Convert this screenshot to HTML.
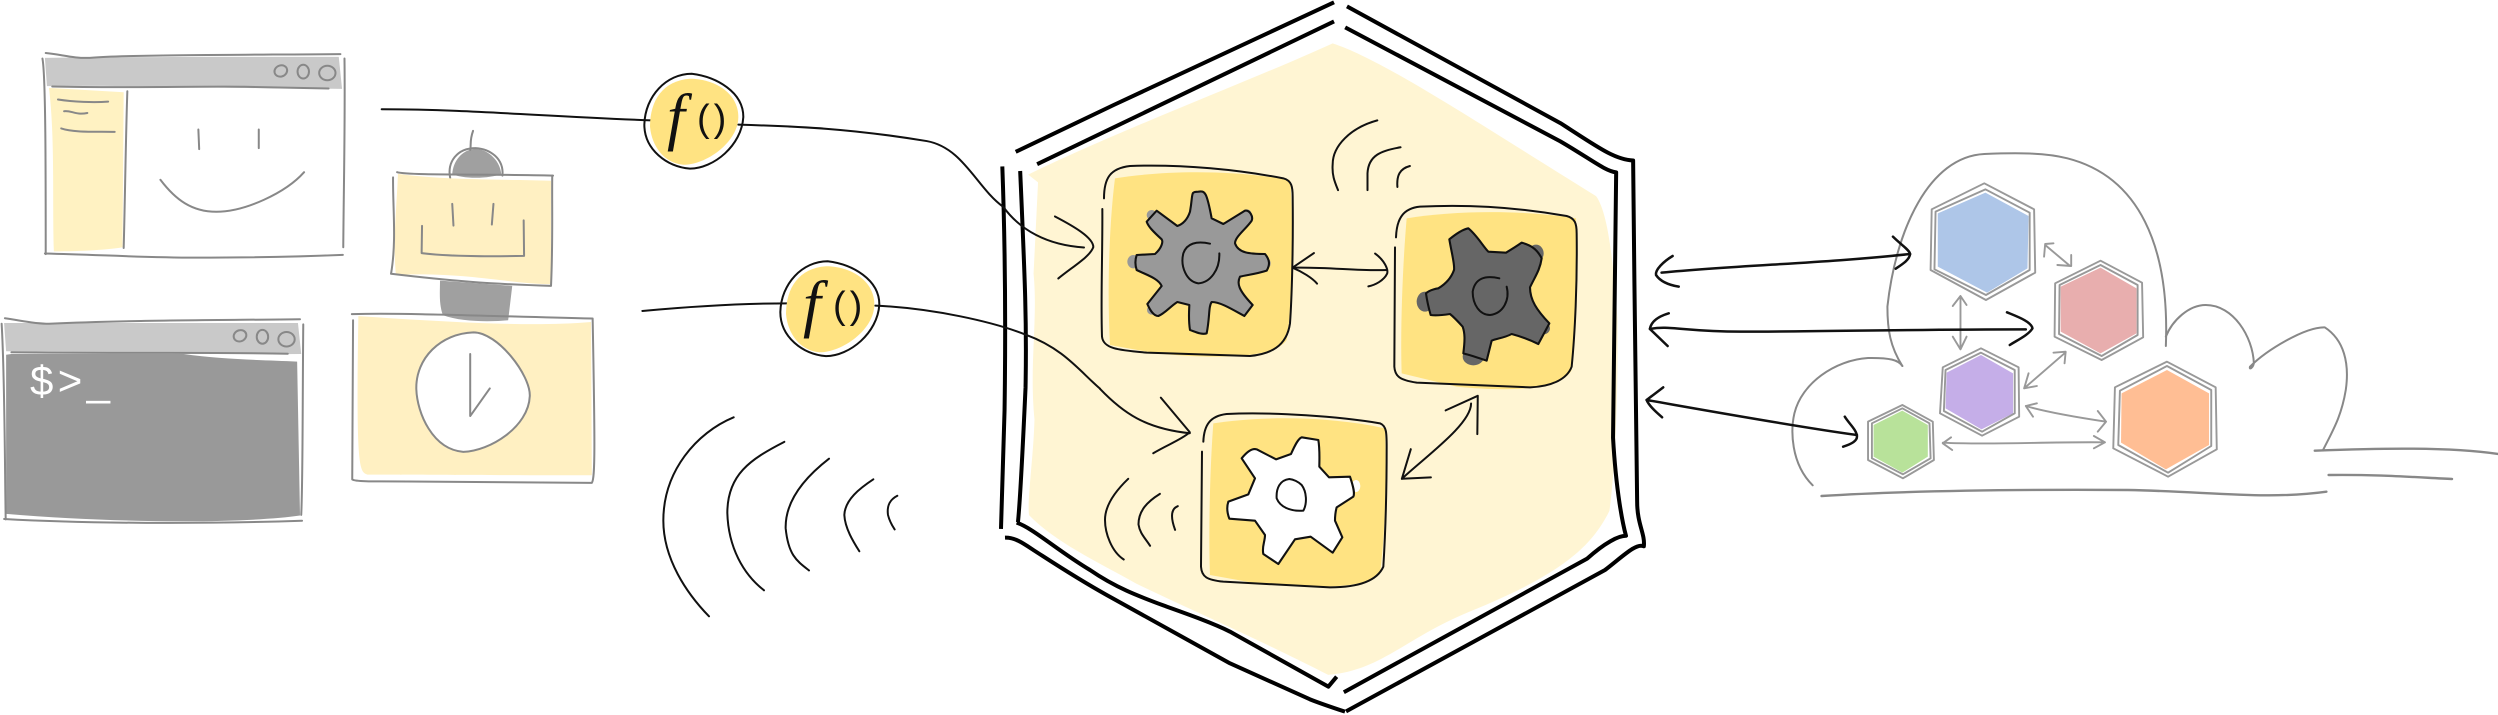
<!DOCTYPE html>
<html><head><meta charset="utf-8"><title>Diagram</title>
<style>
html,body{margin:0;padding:0;background:#fff;width:2498px;height:715px;overflow:hidden}
svg{display:block}
path,polygon,ellipse{vector-effect:non-scaling-stroke;stroke-linecap:round;stroke-linejoin:round}
.g{fill:none;stroke:#888;stroke-width:2}
.k{fill:none;stroke:#111;stroke-width:2}
.K{fill:none;stroke:#000;stroke-width:4;stroke-linecap:butt}
.A{fill:none;stroke:#111;stroke-width:2.5}
.a{fill:none;stroke:#999;stroke-width:1.9}
.h{fill:none;stroke:#999;stroke-width:1.9}
</style></head><body>
<svg width="2498" height="715" viewBox="0 0 2498 715" xmlns="http://www.w3.org/2000/svg">

<!-- left clients -->
<g transform="scale(.40816,.34439)">
  <path fill="#c9c9c9" d="M110,168 C300,165 600,165 830,165 L838,258 C600,258 300,246 115,250 Z"/>
  <path fill="#fff2c2" d="M120,255 L303,268 L300,718 C270,725 200,730 132,730 C128,600 135,400 120,255 Z"/>
  <path class="g" d="M112,154 C150,158 180,170 220,168 C300,160 500,160 834,157"/>
  <path class="g" d="M104,170 C112,220 112,500 112,738"/>
  <path class="g" d="M110,736 C250,740 350,748 480,748 C600,748 720,746 840,740"/>
  <path class="g" d="M844,170 C846,350 842,550 841,718"/>
  <path class="g" d="M128,251 C300,256 500,250 600,252 L805,257"/>
  <path class="g" d="M312,265 C308,400 306,600 303,720"/>
  <path class="g" d="M142,289 C180,296 230,298 265,295"/>
  <path class="g" d="M157,323 C175,320 185,335 214,328"/>
  <path class="g" d="M150,373 C180,385 230,382 281,383"/>
  <path class="g" d="M486,376 L488,433 M634,376 L634,430"/>
  <path class="g" d="M393,522 C430,580 470,615 530,615 C600,615 700,560 745,500"/>
  <ellipse class="g" cx="688" cy="206" rx="15" ry="17" transform="rotate(30 688 206)"/>
  <ellipse class="g" cx="743" cy="208" rx="14" ry="20"/>
  <ellipse class="g" cx="802" cy="212" rx="20" ry="21"/>

  <path fill="#c9c9c9" d="M10,938 C250,938 500,938 730,938 L738,1028 C500,1030 250,1022 15,1020 Z"/>
  <path fill="#999" d="M28,1028 L450,1028 C550,1045 650,1045 728,1050 L735,1497 C600,1520 300,1520 15,1492 L15,1030 Z"/>
  <path class="g" d="M12,924 C50,930 80,940 120,940 C300,930 500,930 735,927"/>
  <path class="g" d="M4,940 C12,1100 12,1400 14,1508"/>
  <path class="g" d="M10,1507 C200,1520 500,1522 740,1512"/>
  <path class="g" d="M743,942 C741,1200 742,1400 738,1495"/>
  <path class="g" d="M28,1023 C300,1027 500,1022 705,1027"/>
  <ellipse class="g" cx="588" cy="975" rx="15" ry="17" transform="rotate(30 588 975)"/>
  <ellipse class="g" cx="643" cy="978" rx="14" ry="20"/>
  <ellipse class="g" cx="702" cy="985" rx="20" ry="21"/>

  <!-- robot -->
  <path fill="#a0a0a0" d="M1108,505 C1110,470 1130,435 1165,432 C1200,435 1225,470 1228,505 C1200,520 1130,520 1108,505 Z"/>
  <path class="g" d="M1159,380 C1150,410 1155,420 1152,435"/>
  <path class="g" d="M1103,517 C1095,470 1120,430 1165,430 C1200,432 1235,460 1231,510"/>
  <path fill="#a0a0a0" d="M1078,815 L1255,830 L1245,930 C1200,935 1130,935 1085,915 C1075,880 1078,850 1078,815 Z"/>
  <path fill="#fff0c2" d="M975,505 C1100,525 1250,520 1350,525 L1350,825 C1250,825 1150,790 970,798 C962,700 972,600 975,505 Z"/>
  <path class="g" d="M973,500 C1000,510 1200,505 1355,510"/>
  <path class="g" d="M963,515 C962,600 972,700 958,795 C1100,815 1200,825 1350,830 C1355,700 1352,600 1353,510"/>
  <path class="g" d="M1108,592 L1111,655 M1209,592 L1205,652"/>
  <path class="g" d="M1034,656 L1033,735 C1100,745 1200,745 1284,743 L1283,640"/>
  <path fill="#fff0c2" d="M878,918 C1100,935 1300,950 1448,935 L1450,1380 C1250,1380 1000,1378 900,1378 C880,1370 872,1360 878,918 Z"/>
  <path class="g" d="M862,912 C1000,908 1200,918 1450,925"/>
  <path class="g" d="M865,930 L863,1392 C870,1398 900,1398 1000,1398 L1450,1402 C1458,1390 1458,1300 1452,925"/>
  <path fill="#fff" stroke="#888" stroke-width="2" d="M1020,1130 C1018,1040 1080,968 1160,965 C1220,965 1300,1090 1298,1150 C1295,1240 1200,1310 1135,1312 C1060,1305 1022,1200 1020,1130 Z"/>
  <path class="g" d="M1152,1028 L1152,1208 L1200,1128"/>
</g>
<text x="30" y="395" fill="#fff" font-family="'Liberation Sans',sans-serif" font-size="42" textLength="80">$&gt;_</text>

<!-- central hexagon -->
<g transform="translate(980,0) scale(.44643,.456)">
  <path fill="#fff5d3" d="M108,383 C300,290 600,180 790,95 C900,130 1100,260 1380,430 C1410,470 1420,600 1428,700 C1430,900 1420,1050 1410,1120 C1370,1200 1300,1260 1100,1340 C950,1400 900,1470 780,1480 C620,1400 500,1350 350,1280 C260,1230 170,1190 110,1130 C105,1100 120,1000 122,920 C110,800 130,700 120,600 L130,400 Z"/>
  <path class="K" d="M80,333 L300,230 L793,5"/>
  <path class="K" d="M128,360 L793,47"/>
  <path class="K" d="M822,14 L1300,270 C1380,320 1420,350 1463,352 C1465,600 1470,900 1472,1100 C1472,1150 1490,1170 1487,1198 C1470,1190 1440,1220 1400,1250 L820,1560"/>
  <path class="K" d="M818,60 L1300,310 C1370,350 1400,375 1425,378 L1418,960 C1425,1080 1440,1150 1447,1175 C1430,1175 1400,1190 1360,1225 L815,1518"/>
  <path class="K" d="M90,375 C100,600 105,700 102,850 C95,1000 90,1100 85,1145"/>
  <path class="K" d="M50,365 C55,500 58,700 55,900 L47,1160"/>
</g>
<g transform="translate(990,500) scale(.33333)">
  <path class="K" d="M1065,635 C1020,620 990,610 960,598 L720,490 L350,285 C260,235 200,195 130,150 C100,130 75,112 45,113"/>
  <path class="K" d="M80,68 C130,85 200,150 300,210 C380,265 450,290 530,320 C600,345 670,370 720,395 L1015,560 L1040,530"/>
</g>

<!-- box 1 -->
<g transform="translate(1090,150) scale(.33333)">
  <path fill="#ffe382" d="M75,85 C200,65 400,55 600,90 C610,200 610,450 590,570 C550,630 350,625 200,610 L60,585 C50,400 60,200 75,85 Z"/>
  <path class="k" d="M42,145 C42,85 60,55 120,48 C280,42 450,60 580,85 C605,92 608,110 608,140 C610,300 605,450 600,520 C590,590 540,612 480,618 L170,608 C80,600 40,595 36,560 C32,450 38,300 37,177"/>
  <ellipse fill="#999" cx="185" cy="195" rx="15" ry="15"/>
  <ellipse fill="#999" cx="130" cy="335" rx="18" ry="20"/>
  <ellipse fill="#999" cx="185" cy="480" rx="14" ry="14"/>
  <ellipse fill="#999" cx="470" cy="190" rx="14" ry="12"/>
  <ellipse fill="#999" cx="530" cy="340" rx="12" ry="16"/>
  <path fill="#999" stroke="#111" stroke-width="2.1" d="M300,185 C310,130 300,125 325,125 C345,122 350,125 365,205 L400,222 L465,182 C480,180 490,200 485,212 C470,235 435,260 435,280 C445,310 480,312 525,312 C540,330 540,345 530,362 C500,372 470,375 450,380 C440,400 445,420 488,465 L463,498 C430,480 390,455 365,456 C355,470 360,500 350,550 C335,555 315,545 300,540 C295,510 297,490 298,465 L262,456 C240,470 225,490 205,498 C190,498 180,480 172,462 L215,408 C205,385 170,375 140,360 C135,345 135,330 140,315 L195,312 C215,295 220,275 215,268 C190,245 175,230 170,215 L200,182 L262,228 C285,220 295,200 300,185 Z"/>
  <path class="k" d="M360,281 C320,272 290,280 280,310 C270,350 290,395 325,400 C360,398 390,360 388,310"/>
</g>
<!-- box 2 -->
<g transform="translate(1390,190) scale(.33333)">
  <path fill="#ffe382" d="M50,85 C200,60 400,60 558,85 C560,250 555,400 545,540 C520,590 400,610 200,590 L35,550 C30,400 40,200 50,85 Z"/>
  <path class="k" d="M18,142 C20,85 40,55 90,50 C250,42 400,55 530,78 C555,85 560,100 560,130 C562,280 555,430 545,530 C530,570 480,590 420,592 L80,578 C30,570 15,560 13,530 L15,172"/>
  <ellipse fill="#666" cx="105" cy="335" rx="25" ry="30"/>
  <ellipse fill="#666" cx="438" cy="190" rx="23" ry="26"/>
  <ellipse fill="#666" cx="250" cy="500" rx="32" ry="26"/>
  <ellipse fill="#666" cx="460" cy="415" rx="20" ry="18"/>
  <path fill="#666" stroke="#111" stroke-width="2.1" d="M178,148 C200,130 220,118 235,115 C260,135 280,170 295,185 L348,188 C370,175 385,165 395,158 C420,165 440,175 455,205 C450,240 435,260 420,292 C420,330 440,360 478,400 L445,462 C420,450 395,440 365,432 C340,445 320,445 305,452 L290,512 C270,505 240,495 220,490 C225,450 225,430 218,410 C200,390 190,380 180,372 C160,375 140,378 122,375 C115,350 110,325 108,310 C120,298 145,295 145,295 C170,280 185,260 192,240 C195,225 185,190 178,148 Z"/>
  <path class="k" d="M328,265 C285,255 255,265 248,305 C248,345 270,375 300,375 C340,370 360,330 350,290"/>
</g>
<!-- box 3 -->
<g transform="translate(1190,400) scale(.33333)">
  <path fill="#ffe382" d="M70,70 C200,50 400,45 585,85 C590,250 585,400 570,520 C540,560 400,570 200,550 L60,525 C55,400 60,200 70,70 Z"/>
  <path class="k" d="M40,125 C42,75 60,48 110,42 C250,35 450,50 570,70 C590,78 590,100 590,140 C590,300 585,420 580,500 C560,545 500,562 420,562 L100,545 C50,540 35,530 33,500 L36,155"/>
  <ellipse fill="#fff" cx="498" cy="258" rx="13" ry="18"/>
  <path fill="#fff" stroke="#111" stroke-width="2.1" d="M155,175 C175,150 190,145 200,148 L258,178 L303,162 C315,135 325,115 335,112 L385,120 C390,150 388,180 388,200 L417,232 L480,230 C490,260 495,280 490,290 L440,322 C435,340 435,355 435,362 L457,412 L428,458 L362,410 L315,418 L265,492 L220,462 C215,440 225,425 225,405 L195,362 L118,356 C110,335 110,320 115,305 L175,283 L195,235 Z"/>
  <path class="k" d="M298,237 C270,240 258,265 260,295 C270,320 300,335 340,332 C352,310 350,275 335,255 C325,245 310,238 298,237 Z"/>
</g>

<g transform="translate(980,0) scale(.44643,.456)">
  <!-- arrows -->
  <path class="k" d="M700,587 C780,585 850,595 912,592"/>
  <path class="k" d="M748,555 L700,587 C720,595 745,610 755,622"/>
  <path class="k" d="M885,556 C905,570 915,590 912,600 C905,615 885,625 870,628"/>
  <path class="k" d="M945,1050 C1000,1000 1100,930 1100,885"/>
  <path class="k" d="M965,985 L945,1050 L1010,1047"/>
  <path class="k" d="M1043,900 L1115,868 L1114,952"/>
  <path class="k" d="M890,264 C830,280 790,320 790,360 C788,385 795,400 802,417"/>
  <path class="k" d="M942,323 C900,330 870,340 868,380 L868,417"/>
  <path class="k" d="M963,364 C940,370 933,385 935,410"/>
  <path class="k" d="M332,1050 C300,1080 280,1110 280,1140 C280,1170 295,1210 322,1227"/>
  <path class="k" d="M403,1083 C375,1100 355,1120 355,1150 C358,1170 370,1180 381,1197"/>
  <path class="k" d="M443,1110 C430,1115 425,1130 437,1162"/>
  <path class="k" d="M269,853 C320,905 370,940 470,950"/>
  <path class="k" d="M405,872 L470,948 C450,965 420,975 388,994"/>
</g>

<!-- wires, f() and waves -->
<g transform="translate(600,50) scale(.33333,.38265)">
  <path class="k" d="M-655,155 C-400,155 -200,172 155,184"/>
  <path class="k" d="M415,195 C600,200 750,205 980,238 C1090,255 1130,360 1210,410 C1260,470 1340,510 1452,516"/>
  <path class="k" d="M1365,435 C1420,460 1480,490 1480,515 C1470,540 1420,565 1375,597"/>
  <path fill="#ffe382" d="M150,200 C150,130 190,80 270,75 C340,75 415,110 415,175 C415,240 320,300 250,300 C190,295 155,250 150,200 Z"/>
  <path class="k" d="M133,195 C135,120 200,62 275,62 C350,70 430,110 430,175 C425,250 340,310 270,310 C200,305 133,260 133,195 Z"/>
  <path class="k" d="M127,682 C300,668 450,662 565,662"/>
  <path class="k" d="M826,668 C1000,675 1180,710 1280,745 C1390,780 1440,840 1500,885"/>
  <g transform="translate(408,490)">
    <path fill="#ffe382" d="M150,200 C150,130 190,80 270,75 C340,75 415,110 415,175 C415,240 320,300 250,300 C190,295 155,250 150,200 Z"/>
    <path class="k" d="M133,195 C135,120 200,62 275,62 C350,70 430,110 430,175 C425,250 340,310 270,310 C200,305 133,260 133,195 Z"/>
  </g>
  <path class="k" d="M401,960 C290,1000 190,1100 190,1230 C190,1330 260,1420 327,1480"/>
  <path class="k" d="M553,1024 C450,1070 382,1110 382,1210 C385,1300 430,1370 492,1412"/>
  <path class="k" d="M687,1068 C610,1120 555,1180 557,1250 C565,1320 590,1335 627,1360"/>
  <path class="k" d="M820,1122 C780,1145 735,1175 733,1215 C735,1250 760,1285 778,1310"/>
  <path class="k" d="M892,1165 C870,1175 860,1190 864,1215 C868,1230 878,1245 884,1253"/>
</g>
<text x="667" y="138" fill="#111" font-family="'Liberation Serif',serif" font-style="italic" font-size="64">f</text>
<text x="697" y="131" fill="#111" font-family="'Liberation Sans',sans-serif" font-size="38" letter-spacing="4">()</text>
<text x="803" y="325" fill="#111" font-family="'Liberation Serif',serif" font-style="italic" font-size="64">f</text>
<text x="833" y="318" fill="#111" font-family="'Liberation Sans',sans-serif" font-size="38" letter-spacing="4">()</text>

<!-- right cloud -->
<g transform="translate(1630,130) scale(.55357,.33333)">
  <path class="g" d="M492,708 C470,650 465,600 465,530 C480,300 540,80 640,72 C700,68 750,68 790,85 C920,140 975,350 968,648"/>
  <path class="g" d="M968,620 C980,570 1010,525 1040,525 C1090,525 1125,620 1127,700 C1125,715 1118,720 1120,710 C1150,660 1220,590 1255,592 C1290,630 1300,700 1293,780 C1285,860 1270,900 1252,960"/>
  <path class="g" d="M330,1066 C290,1000 290,900 297,850 C310,760 370,690 430,684 C470,683 485,690 492,708"/>
  <path class="g" style="stroke-width:2.4" d="M346,1098 C500,1082 700,1078 900,1080 C1050,1085 1150,1110 1258,1085"/>
  <path class="g" style="stroke-width:2.4" d="M1237,962 C1350,955 1480,950 1568,972"/>
  <path class="g" style="stroke-width:2.4" d="M1262,1035 C1350,1033 1420,1042 1485,1047"/>

  <polygon fill="#aec6e8" points="642,188 720,258 718,415 645,488 556,410 556,250"/>
  <polygon class="h" points="640,160 730,238 732,428 643,510 543,420 545,238"/>
  <polygon class="h" points="642,178 722,248 722,420 643,495 550,418 552,245"/>

  <polygon fill="#e8aeae" points="850,413 915,475 915,610 850,670 778,605 778,470"/>
  <polygon class="h" points="850,392 925,458 927,622 852,690 767,620 768,460"/>
  <polygon class="h" points="850,405 917,465 917,615 852,678 775,612 776,465"/>

  <polygon fill="#c5aee8" points="634,675 692,730 692,850 635,898 570,835 572,728"/>
  <polygon class="h" points="634,655 702,712 703,860 636,917 560,850 565,712"/>
  <polygon class="h" points="634,668 695,720 695,850 636,905 567,843 570,720"/>

  <polygon fill="#b8e29a" points="492,842 538,885 538,980 492,1028 440,980 440,885"/>
  <polygon class="h" points="492,825 547,875 549,990 493,1045 430,990 430,875"/>
  <polygon class="h" points="492,835 541,880 543,985 493,1033 437,985 437,880"/>

  <polygon fill="#ffbe94" points="970,720 1046,790 1046,945 968,1018 887,938 888,790"/>
  <polygon class="h" points="970,695 1058,772 1060,958 972,1040 873,955 876,772"/>
  <polygon class="h" points="970,708 1050,780 1050,948 972,1028 882,945 885,782"/>

  <path class="a" d="M750,345 L795,408 M765,340 L750,342 L748,380 M797,375 L797,408 L772,405"/>
  <path class="a" d="M597,498 L597,655 M583,528 L597,498 L608,525 M583,620 L597,658 L608,620"/>
  <path class="a" d="M712,775 L787,667 M720,730 L712,775 L735,768 M765,668 L787,665 L785,700"/>
  <path class="a" d="M715,828 C750,845 800,860 860,875 M735,820 L715,828 L728,860 M845,843 L860,875 L845,905"/>
  <path class="a" d="M565,938 C650,945 750,935 858,937 M580,922 L565,940 L582,960 M838,918 L858,937 L838,955"/>

  <path class="A" d="M57,428 C200,405 350,400 506,372"/>
  <path class="A" d="M77,378 C60,395 45,420 47,435 C55,455 70,465 88,470"/>
  <path class="A" d="M475,320 C490,345 505,360 506,372 C505,390 490,405 480,416"/>
  <path class="A" d="M36,597 C70,585 100,605 200,605 C350,605 500,598 715,598"/>
  <path class="A" d="M70,550 C50,560 38,575 36,597 L68,648"/>
  <path class="A" d="M681,547 C700,560 725,575 727,595 C720,615 700,630 686,645"/>
  <path class="A" d="M30,810 C150,845 300,890 410,915"/>
  <path class="A" d="M60,772 L30,810 C35,830 50,850 58,862"/>
  <path class="A" d="M388,860 C395,880 410,900 410,920 C410,935 395,945 385,950"/>
</g>
</svg>
</body></html>
